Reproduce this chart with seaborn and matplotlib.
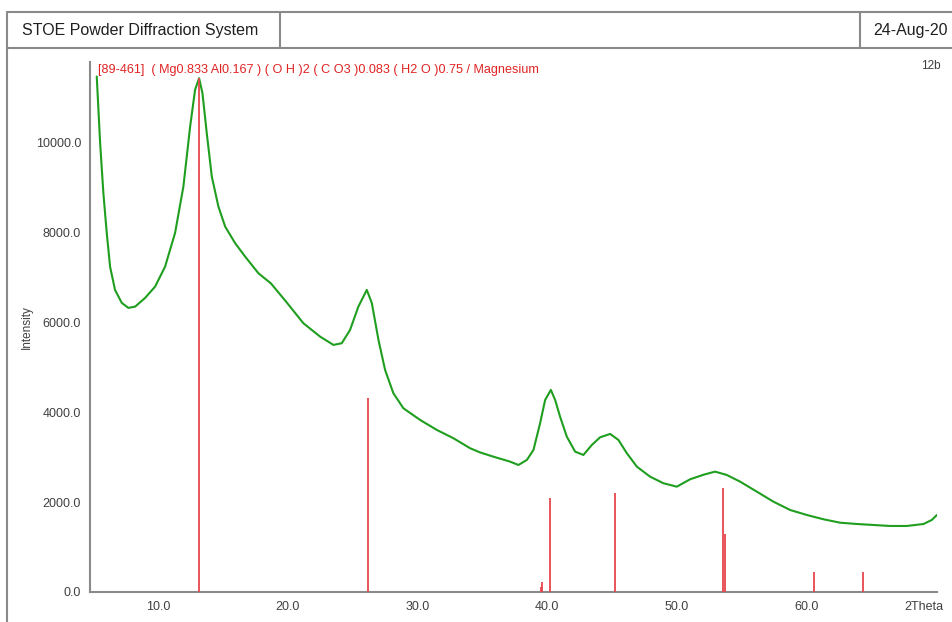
import matplotlib
matplotlib.use("Agg")
import matplotlib.pyplot as plt
import matplotlib.transforms as mtransforms
import seaborn as sns
import pandas as pd
from matplotlib.lines import Line2D

# ---- data ----
two_theta = [5.27, 5.53, 5.78, 6.04, 6.30, 6.68, 7.20, 7.71, 8.23, 9.00, 9.77, 10.54,
             11.31, 11.95, 12.47, 12.85, 13.16, 13.42, 13.75, 14.14, 14.65, 15.17, 15.94,
             16.71, 17.73, 18.70, 19.85, 21.20, 22.49, 23.52, 24.16, 24.80, 25.44, 26.09,
             26.48, 26.99, 27.50, 28.14, 28.91, 30.20, 31.49, 32.77, 34.06, 34.80, 35.85,
             37.14, 37.78, 38.43, 38.94, 39.45, 39.84, 40.28, 40.61, 40.99, 41.51, 42.15,
             42.79, 43.44, 44.08, 44.85, 45.49, 46.14, 46.91, 47.93, 48.96, 49.99, 51.02,
             52.04, 52.94, 53.84, 54.87, 56.16, 57.44, 58.73, 60.01, 61.30, 62.58, 63.87,
             65.15, 66.44, 67.72, 69.01, 69.65, 70.04]
intensity = [11477, 10000, 8886, 7996, 7238, 6726, 6436, 6325, 6354, 6548, 6800, 7245,
             7996, 9027, 10363, 11180, 11440, 11107, 10220, 9250, 8581, 8136, 7766,
             7468, 7098, 6870, 6470, 5984, 5686, 5501, 5539, 5835, 6354, 6726,
             6430, 5612, 4944, 4425, 4091, 3831, 3608, 3423, 3200, 3110, 3013,
             2902, 2828, 2940, 3163, 3757, 4276, 4500, 4276, 3904, 3459, 3125,
             3051, 3274, 3445, 3519, 3385, 3089, 2791, 2568, 2421, 2345, 2510,
             2610, 2680, 2606, 2457, 2234, 2011, 1826, 1715, 1619, 1543, 1514,
             1492, 1470, 1470, 1514, 1604, 1715]

ref_positions = [13.16, 26.22, 39.50, 39.57, 40.25, 45.26, 53.58, 53.72, 60.55, 64.36]
ref_heights = [11450, 4314, 120, 230, 2100, 2210, 2323, 1285, 452, 452]

x_ticks = [10, 20, 30, 40, 50, 60, 70]
x_tick_labels = ["10.0", "20.0", "30.0", "40.0", "50.0", "60.0", "2Theta"]
y_ticks = [0, 2000, 4000, 6000, 8000, 10000]
y_tick_labels = ["0.0", "2000.0", "4000.0", "6000.0", "8000.0", "10000.0"]

header_title = "STOE Powder Diffraction System"
header_date = "24-Aug-20"
card_label = "[89-461]  ( Mg0.833 Al0.167 ) ( O H )2 ( C O3 )0.083 ( H2 O )0.75 / Magnesium"
sample_name = "12b"

# ---- style ----
sns.set_theme(style="white")
plt.rcParams["font.family"] = ["Liberation Sans", "DejaVu Sans"]

W, H = 952, 622
fig = plt.figure(figsize=(W / 100, H / 100), dpi=100)

def fx(px):
    return px / W

def fy(py):
    return 1 - py / H

ax = fig.add_axes([fx(90), fy(592), fx(937) - fx(90), fy(62) - fy(592)])

df = pd.DataFrame({"2Theta": two_theta, "Intensity": intensity})
sns.lineplot(data=df, x="2Theta", y="Intensity", ax=ax, color="#1f9e1f",
             linewidth=1.5, estimator=None, sort=False)

ax.vlines(ref_positions, 0, ref_heights, colors="#e8464e", linewidth=1.3, zorder=3)

ax.set_xlim(4.75, 70.05)
ax.set_ylim(0, 11800)
ax.set_xticks(x_ticks)
ax.set_xticklabels(x_tick_labels)
ax.set_yticks(y_ticks)
ax.set_yticklabels(y_tick_labels)
ax.set_xlabel("")
ax.set_ylabel("")

for side in ["top", "right"]:
    ax.spines[side].set_visible(False)
for side in ["left", "bottom"]:
    ax.spines[side].set_color("#8a8a8a")
    ax.spines[side].set_linewidth(1.5)
ax.tick_params(axis="both", direction="out", length=3.5, width=1.0, color="#8a8a8a",
               labelsize=9, labelcolor="#404040", pad=3)
ax.grid(False)

# shift the last x label ("2Theta") left so it stays inside the figure
last_label = ax.get_xticklabels()[-1]
last_label.set_transform(last_label.get_transform() +
                         mtransforms.ScaledTranslation(-12 / 100, 0, fig.dpi_scale_trans))

fig.text(fx(27), fy(327), "Intensity", rotation=90, ha="center", va="center",
         fontsize=8.5, color="#404040")
fig.text(fx(98), fy(70), card_label, ha="left", va="center", fontsize=9.1,
         color="#e02424")
fig.text(fx(941), fy(66), sample_name, ha="right", va="center", fontsize=8.5,
         color="#404040")

# ---- header frame ----
lc = "#8a8a8a"
lw = 1.5
fig.add_artist(Line2D([fx(7), 1.0], [fy(12), fy(12)], color=lc, lw=lw))
fig.add_artist(Line2D([fx(7), 1.0], [fy(48), fy(48)], color=lc, lw=lw))
fig.add_artist(Line2D([fx(7), fx(7)], [fy(12), 0.0], color=lc, lw=lw))
fig.add_artist(Line2D([fx(280), fx(280)], [fy(12), fy(48)], color=lc, lw=lw))
fig.add_artist(Line2D([fx(860), fx(860)], [fy(12), fy(48)], color=lc, lw=lw))

fig.text(fx(22), fy(30), header_title, ha="left", va="center", fontsize=11.5,
         color="#202020")
fig.text(fx(873), fy(30), header_date, ha="left", va="center", fontsize=11.5,
         color="#202020")

fig.savefig("out.png", dpi=100, facecolor="white")
